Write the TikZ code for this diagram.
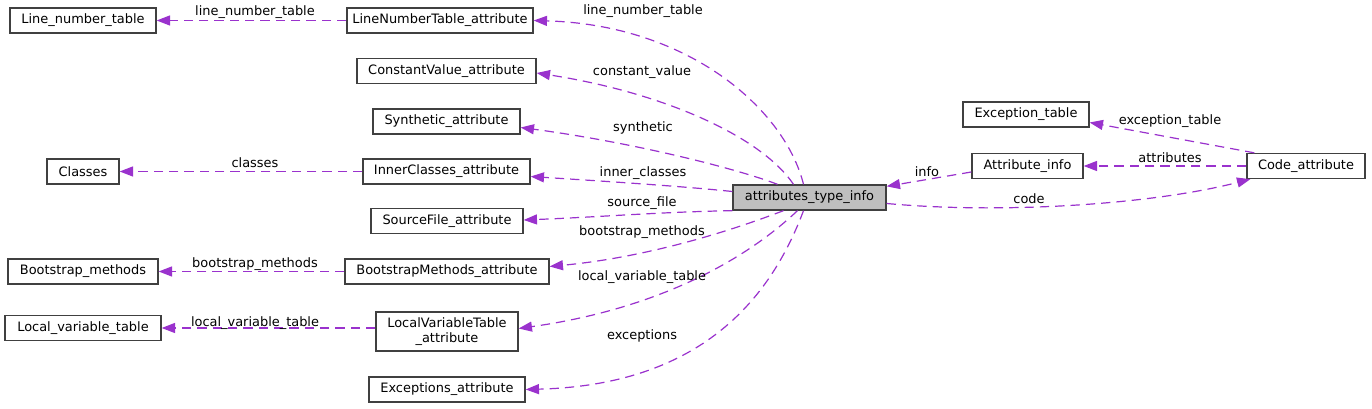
\documentclass[tikz,border=0pt]{standalone}
\usepackage{fontspec}
\setmainfont{DejaVu Sans}
\usetikzlibrary{arrows.meta,calc}
\definecolor{edgecol}{HTML}{9A32CD}
\definecolor{boxline}{HTML}{404040}
\definecolor{mainfill}{HTML}{BFBFBF}
\tikzset{
  box/.style={draw=boxline, line width=1pt, fill=white, minimum height=18.75pt, inner xsep=2pt, inner ysep=1pt, font=\fontsize{9.7}{11.2}\selectfont, align=center},
  mainbox/.style={box, fill=mainfill},
  edge/.style={draw=edgecol, line width=0.9pt, dash pattern=on 7pt off 4.5pt, -{Triangle[length=10pt,width=7.5pt]}},
  lbl/.style={font=\fontsize{9.7}{11.2}\selectfont, inner sep=0pt}
}
\begin{document}
\begin{tikzpicture}[x=0.75pt,y=-0.75pt]
\useasboundingbox (0,0) rectangle (1372,409);
% nodes
\node[box, minimum width=109.5pt] (lnt) at (83,20.5) {Line\_number\_table};
\node[box, minimum width=139.5pt] (lnta) at (440,20.5) {LineNumberTable\_attribute};
\node[box, minimum width=134.25pt] (cva) at (446.5,71) {ConstantValue\_attribute};
\node[box, minimum width=110.25pt] (syn) at (446.5,121.5) {Synthetic\_attribute};
\node[box, minimum width=54pt] (cls) at (83,171.5) {Classes};
\node[box, minimum width=125.25pt] (ica) at (446.5,171.5) {InnerClasses\_attribute};
\node[box, minimum width=114pt] (sfa) at (447,221) {SourceFile\_attribute};
\node[box, minimum width=112.5pt] (bm) at (83,271.5) {Bootstrap\_methods};
\node[box, minimum width=153pt] (bma) at (447,271.5) {BootstrapMethods\_attribute};
\node[box, minimum width=117pt] (lvt) at (83,328) {Local\_variable\_table};
\node[box, minimum width=106.5pt, minimum height=29.25pt] (lvta) at (447,331.5) {LocalVariableTable\\\_attribute};
\node[box, minimum width=117pt] (exa) at (447,389.5) {Exceptions\_attribute};
\node[mainbox, minimum width=114.75pt] (main) at (809.5,197.5) {attributes\_type\_info};
\node[box, minimum width=94.5pt] (et) at (1026,114.5) {Exception\_table};
\node[box, minimum width=83.25pt] (ai) at (1027.5,166) {Attribute\_info};
\node[box, minimum width=88.5pt] (code) at (1306,166) {Code\_attribute};
% edges
\draw[edge] (lnta.west) -- (lnt.east);
\draw[edge] (ica.west) -- (cls.east);
\draw[edge] (bma.west) -- (bm.east);
\draw[edge] (lvta.west |- lvt.east) -- (lvt.east);
\draw[edge] ($(main.north)+(-6,0)$) .. controls (785,110) and (690,25) .. (lnta.east);
\draw[edge] ($(main.north)+(-16,0)$) .. controls (760,135) and (660,92) .. ($(cva.east)+(0,2)$);
\draw[edge] ($(main.north)+(-32,0)$) .. controls (735,168) and (630,142) .. ($(syn.east)+(0,6)$);
\draw[edge] ($(main.west)+(0,-6)$) .. controls (680,186) and (600,181) .. ($(ica.east)+(0,5)$);
\draw[edge] (main.south west) .. controls (660,212) and (600,217) .. ($(sfa.east)+(0,-1)$);
\draw[edge] ($(main.south)+(-26,0)$) .. controls (720,235) and (640,258) .. ($(bma.east)+(0,-5)$);
\draw[edge] ($(main.south)+(-12,0)$) .. controls (740,265) and (650,310) .. ($(lvta.east)+(0,-3)$);
\draw[edge] ($(main.south)+(-6,0)$) .. controls (770,300) and (700,385) .. (exa.east);
\draw[edge] ($(ai.west)+(0,6)$) -- ($(main.north east)+(0,2)$);
\draw[edge] ($(main.east)+(0,6)$) .. controls (1000,214) and (1150,205) .. ($(code.south west)+(4,0)$);
\draw[edge] (code.west) -- (ai.east);
\draw[edge] ($(code.north west)+(8,0)$) -- ($(et.east)+(0,8)$);
% labels
\node[lbl] (l1) at (255,12) {line\_number\_table};
\node[lbl] (l2) at (255,163) {classes};
\node[lbl] (l3) at (255,264) {bootstrap\_methods};
\node[lbl] (l4) at (255,323) {local\_variable\_table};
\node[lbl] (l5) at (643,11) {line\_number\_table};
\node[lbl] (l6) at (642,72) {constant\_value};
\node[lbl] (l7) at (643,128) {synthetic};
\node[lbl] (l8) at (643,173) {inner\_classes};
\node[lbl] (l9) at (642,203) {source\_file};
\node[lbl] (l10) at (642,232) {bootstrap\_methods};
\node[lbl] (l11) at (642,277) {local\_variable\_table};
\node[lbl] (l12) at (642,336) {exceptions};
\node[lbl] (l13) at (927,172) {info};
\node[lbl] (l14) at (1029,199) {code};
\node[lbl] (l15) at (1170,158) {attributes};
\node[lbl] (l16) at (1170,121) {exception\_table};
\end{tikzpicture}
\end{document}
